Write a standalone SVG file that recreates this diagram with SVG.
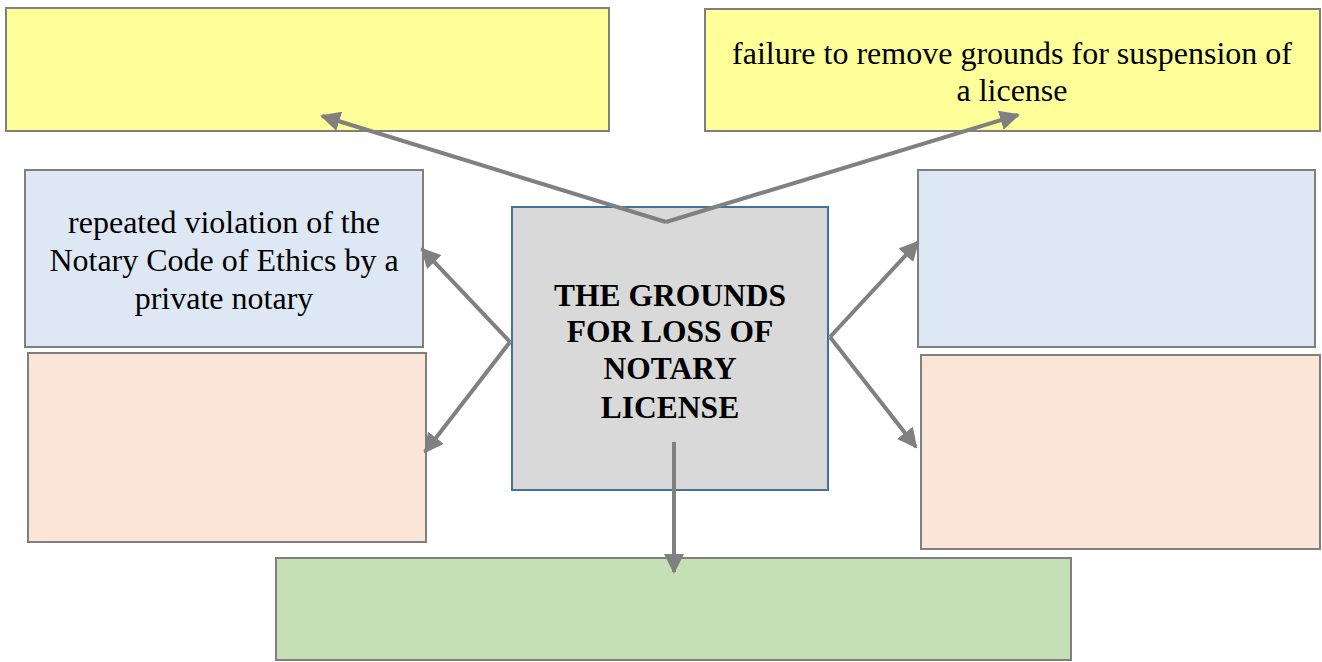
<svg xmlns="http://www.w3.org/2000/svg" width="1322" height="662" viewBox="0 0 1322 662">
<style>
.box{stroke:#7f7f7f;stroke-width:2}
.y{fill:#ffff99}.b{fill:#dee8f4}.p{fill:#fbe5d6}.g{fill:#c5e0b4}
.c{fill:#d9d9d9;stroke:#41719c;stroke-width:2}
text{font-family:"Liberation Serif","Times New Roman","DejaVu Serif",serif;font-size:32px;fill:#000;text-anchor:middle}
.tb{font-weight:bold;font-size:31.5px}
.conn line{stroke:#808080;stroke-width:4;marker-end:url(#ah)}
</style>
<defs>
<marker id="ah" viewBox="0 0 10 10" refX="9" refY="5" markerWidth="5" markerHeight="5" orient="auto" markerUnits="strokeWidth">
<path d="M0,0 L10,5 L0,10 z" fill="#808080"/>
</marker>
</defs>
<g id="n-top-left"><rect class="box y" x="6" y="8" width="603" height="123"/></g>
<g id="n-top-right"><rect class="box y" x="705" y="9" width="615" height="122"/>
<text x="1012" y="64">failure to remove grounds for suspension of</text>
<text x="1012" y="101">a license</text></g>
<g id="n-left-blue"><rect class="box b" x="25" y="170" width="398" height="177"/>
<text x="224" y="233">repeated violation of the</text>
<text x="224" y="271">Notary Code of Ethics by a</text>
<text x="224" y="309">private notary</text></g>
<g id="n-left-peach"><rect class="box p" x="28" y="353" width="398" height="189"/></g>
<g id="n-right-blue"><rect class="box b" x="918" y="170" width="397" height="177"/></g>
<g id="n-right-peach"><rect class="box p" x="921" y="355" width="399" height="194"/></g>
<g id="n-bottom"><rect class="box g" x="276" y="558" width="795" height="102"/></g>
<g id="n-center"><rect class="c" x="512" y="207" width="316" height="283"/>
<text class="tb" x="670" y="306">THE GROUNDS</text>
<text class="tb" x="670" y="342">FOR LOSS OF</text>
<text class="tb" x="670" y="379">NOTARY</text>
<text class="tb" x="670" y="418">LICENSE</text></g>
<g class="conn" id="connectors">
<line x1="666" y1="222" x2="322" y2="116"/>
<line x1="666" y1="222" x2="1018" y2="115"/>
<line x1="510" y1="342" x2="422" y2="249"/>
<line x1="510" y1="342" x2="425" y2="452"/>
<line x1="830" y1="337" x2="918" y2="242"/>
<line x1="830" y1="337" x2="916" y2="447"/>
<line x1="674" y1="442" x2="674" y2="572"/>
</g>
</svg>
